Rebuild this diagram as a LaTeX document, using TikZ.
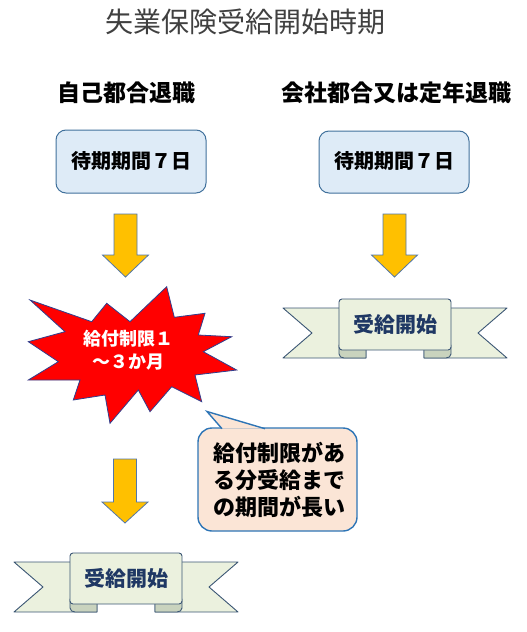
\documentclass[tikz,border=0pt]{standalone}
\usepackage{fontspec}
\setmainfont{Noto Sans CJK JP}
\usetikzlibrary{positioning}
\definecolor{boxfill}{HTML}{DEEBF7}
\definecolor{boxline}{HTML}{41719C}
\definecolor{arrfill}{HTML}{FFC000}
\definecolor{arrline}{HTML}{5277A8}
\definecolor{burstfill}{HTML}{FF0000}
\definecolor{burstline}{HTML}{2F3F8F}
\definecolor{callfill}{HTML}{FBE5D6}
\definecolor{callline}{HTML}{2E75B6}
\definecolor{ribfill}{HTML}{EBF1DE}
\definecolor{ribfold}{HTML}{C9D3BE}
\definecolor{ribline}{HTML}{3B5674}
\definecolor{ribtext}{HTML}{1F3864}
\tikzset{
  waitbox/.style={draw=boxline, fill=boxfill, line width=1pt, rounded corners=10pt},
  blockarr/.style={draw=arrline, fill=arrfill, line width=0.8pt, line join=miter},
  burst/.style={draw=burstline, fill=burstfill, line width=0.8pt, line join=miter},
  callout/.style={draw=callline, fill=callfill, line width=1.4pt, rounded corners=14pt},
  ribshape/.style={draw=ribline, fill=ribfill, line width=0.9pt, line join=round},
  ribfoldshape/.style={draw=ribline, fill=ribfold, line width=0.9pt, line join=round},
  heading/.style={font=\bfseries\fontsize{23pt}{26pt}\selectfont, text=black, inner sep=0pt},
  boxtext/.style={font=\bfseries\fontsize{20pt}{24pt}\selectfont, text=black, inner sep=0pt},
  ribtxt/.style={font=\bfseries\fontsize{21pt}{24pt}\selectfont, text=ribtext, inner sep=0pt},
}
\newcommand{\ribbonat}[3]{%
  % #1 = cx, #2 = cy (tail centre), #3 = name
  \path[ribshape] (#1-112,#2-25) -- (#1-29,#2-25) -- (#1-29,#2+25) -- (#1-112,#2+25) -- (#1-83,#2) -- cycle;
  \path[ribshape] (#1+112,#2-25) -- (#1+29,#2-25) -- (#1+29,#2+25) -- (#1+112,#2+25) -- (#1+83,#2) -- cycle;
  \path[ribfoldshape] (#1-56,#2+12) -- (#1-56,#2+21) to[out=-90,in=180] (#1-51,#2+25) -- (#1-29,#2+25) -- (#1-29,#2+12) -- cycle;
  \path[ribfoldshape] (#1+56,#2+12) -- (#1+56,#2+21) to[out=-90,in=0] (#1+51,#2+25) -- (#1+29,#2+25) -- (#1+29,#2+12) -- cycle;
  \path[ribshape, rounded corners=3pt] (#1-56,#2+17) -- (#1-56,#2-34) -- (#1+56,#2-34) -- (#1+56,#2+17) -- cycle;
  \node[ribtxt] (#3) at (#1,#2-9) {受給開始};
}
\newcommand{\downblock}[4]{%
  % #1 = cx, #2 = ytop, #3 = yhead, #4 = ytip
  \path[blockarr] (#1-11.5,#2) -- (#1+11.5,#2) -- (#1+11.5,#3) -- (#1+23,#3) -- (#1,#4) -- (#1-23,#3) -- (#1-11.5,#3) -- cycle;
}
\begin{document}
\begin{tikzpicture}[x=1pt,y=-1pt]
\useasboundingbox (0,0) rectangle (527,632);

% title
\node[font=\fontsize{28pt}{30pt}\selectfont, text=black!75, inner sep=0pt] (title) at (245,22) {失業保険受給開始時期};

% headings
\node[heading] (hleft) at (126,93) {自己都合退職};
\node[heading] (hright) at (396,93) {会社都合又は定年退職};

% waiting boxes
\path[waitbox] (56,130) rectangle (206,193);
\node[boxtext] (wleft) at (131,161) {待期期間７日};
\path[waitbox] (319,131) rectangle (469,193);
\node[boxtext] (wright) at (394,161) {待期期間７日};

% block arrows
\downblock{125.5}{214}{255}{277}
\downblock{394.5}{214}{255}{277}
\downblock{125}{459}{502}{523}

% starburst
\path[burst] (166.7,286.7) -- (174.3,317.3) -- (205,313.3) -- (198.3,335) -- (231.7,336.7)
  -- (203.3,351.7) -- (236.7,370) -- (195,375) -- (201.7,401.7) -- (171.7,386.7)
  -- (150,411.7) -- (138.3,390) -- (110,423.3) -- (105,395) -- (73.3,400)
  -- (80,380) -- (28.3,380) -- (58.3,361.7) -- (28.3,341.7) -- (65,331.7)
  -- (30,300) -- (91.7,321.7) -- (106.7,303.3) -- (130,321.7) -- cycle;
\node[font=\bfseries\fontsize{18pt}{23pt}\selectfont, text=white, align=center, inner sep=0pt] (burstlabel) at (128,350.5) {給付制限１\\～３か月};

% callout
\path[callout] (198,428) rectangle (357,531);
\path[draw=callline, fill=callfill, line width=1.4pt, line join=miter] (222,428.7) -- (207,411.5) -- (265,428.7);
\path[fill=callfill] (221,430) rectangle (266,434);
\node[font=\bfseries\fontsize{22pt}{27pt}\selectfont, text=black, align=left, inner sep=0pt] (calltext) at (279.5,480) {給付制限があ\\る分受給まで\\の期間が長い};

% ribbons
\ribbonat{395}{333}{ribright}
\ribbonat{126}{587}{ribleft}

\end{tikzpicture}
\end{document}
